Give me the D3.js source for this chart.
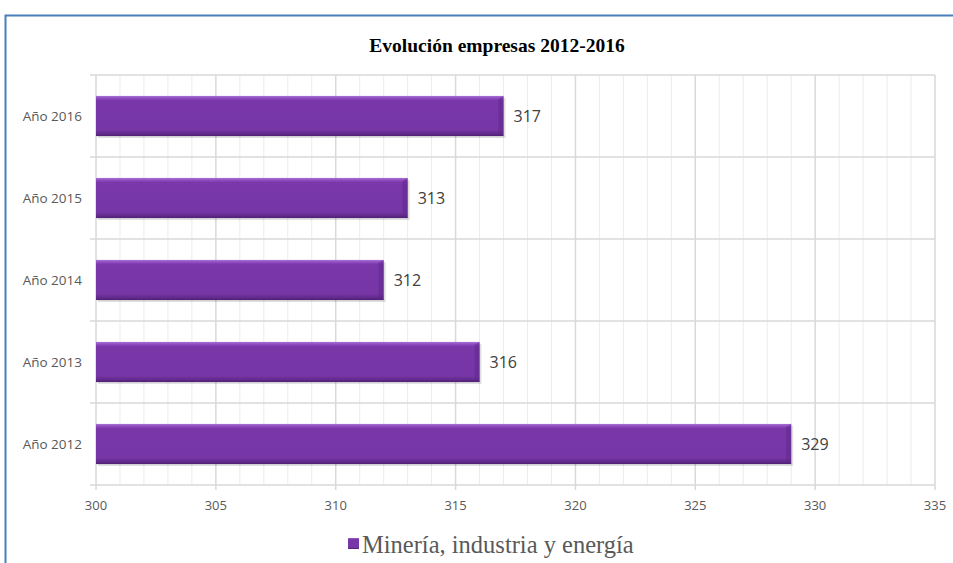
<!DOCTYPE html>
<html><head><meta charset="utf-8">
<script src="https://cdn.jsdelivr.net/npm/d3@7"></script>
<style>body{margin:0;background:#fff;}svg{display:block;}</style>
</head><body>
<script>
const categories = ["Año 2016","Año 2015","Año 2014","Año 2013","Año 2012"];
const values = [317,313,312,316,329];
const seriesName = "Minería, industria y energía";
const xTicks = [300,305,310,315,320,325,330,335];
const title = "Evolución empresas 2012-2016";

const W=953,H=563;
const svg=d3.select("body").append("svg").attr("width",W).attr("height",H);
const defs=svg.append("defs");
const g1=defs.append("linearGradient").attr("id","barg").attr("x1",0).attr("y1",0).attr("x2",0).attr("y2",1);
[[0,"#a673d3"],[0.07,"#8a45bb"],[0.12,"#7937a8"],[0.85,"#7636a6"],[0.93,"#632b8e"],[1,"#4f2174"]].forEach(s=>g1.append("stop").attr("offset",s[0]).attr("stop-color",s[1]));

// outer border
svg.append("path").attr("d","M5.5,563 L5.5,15.5 L953,15.5").attr("fill","none").attr("stroke","#4a7ebb").attr("stroke-width",2);

const x=d3.scaleLinear().domain([300,335]).range([96,935]);
const y=d3.scaleBand().domain(categories).range([75,485]).paddingInner(0.51).paddingOuter(0.255);

// minor gridlines
const minor=d3.range(301,335).filter(v=>v%5!==0);
svg.append("g").selectAll("line").data(minor).join("line")
 .attr("x1",d=>x(d)).attr("x2",d=>x(d)).attr("y1",75).attr("y2",485).attr("stroke","#ececec").attr("stroke-width",1);
// major gridlines
svg.append("g").selectAll("line").data(xTicks).join("line")
 .attr("x1",d=>x(d)).attr("x2",d=>x(d)).attr("y1",75).attr("y2",490).attr("stroke","#d9d9d9").attr("stroke-width",1.5);
// horizontal lines
const hl=[75,157,239,321,403,485];
svg.append("g").selectAll("line").data(hl).join("line")
 .attr("x1",90).attr("x2",x(335)).attr("y1",d=>d).attr("y2",d=>d).attr("stroke","#d9d9d9").attr("stroke-width",1.5);

// bars
const bars=svg.append("g");
categories.forEach((c,i)=>{
  const x0=x(300), x1=x(values[i]), y0=y(c), h=y.bandwidth();
  bars.append("rect").attr("x",x0+2).attr("y",y0+2).attr("width",x1-x0).attr("height",h).attr("fill","#000").attr("opacity",0.12);
  bars.append("rect").attr("x",x0).attr("y",y0).attr("width",x1-x0).attr("height",h).attr("fill","url(#barg)");
  bars.append("path").attr("d",`M${x1-5},${y0+3} L${x1},${y0} L${x1},${y0+h} L${x1-5},${y0+h-3}Z`).attr("fill","#5e2887").attr("opacity",0.5);
  bars.append("text").attr("x",x1+10).attr("y",y0+h/2).attr("dy","0.35em").attr("font-family","'Open Sans',sans-serif").attr("font-size",16).attr("fill","#404040").text(values[i]);
});

// y axis labels
svg.append("g").selectAll("text").data(categories).join("text")
 .attr("x",82).attr("y",d=>y(d)+y.bandwidth()/2).attr("dy","0.35em").attr("text-anchor","end")
 .attr("font-family","'Open Sans',sans-serif").attr("font-size",13.5).attr("fill","#595959").text(d=>d);

// x axis labels
svg.append("g").selectAll("text").data(xTicks).join("text")
 .attr("x",d=>x(d)).attr("y",505).attr("dy","0.35em").attr("text-anchor","middle")
 .attr("font-family","'Open Sans',sans-serif").attr("font-size",13).attr("fill","#595959").text(d=>d);

// title
svg.append("text").attr("x",497).attr("y",52).attr("text-anchor","middle")
 .attr("font-family","'Liberation Serif',serif").attr("font-weight","bold").attr("font-size",19.5).attr("fill","#000").text(title);

// legend
svg.append("rect").attr("x",348).attr("y",538).attr("width",11).attr("height",11).attr("fill","url(#barg)");
svg.append("text").attr("x",362).attr("y",553).attr("font-family","'Liberation Serif',serif").attr("font-size",24.5).attr("fill","#595959").text(seriesName);
</script>
</body></html>
